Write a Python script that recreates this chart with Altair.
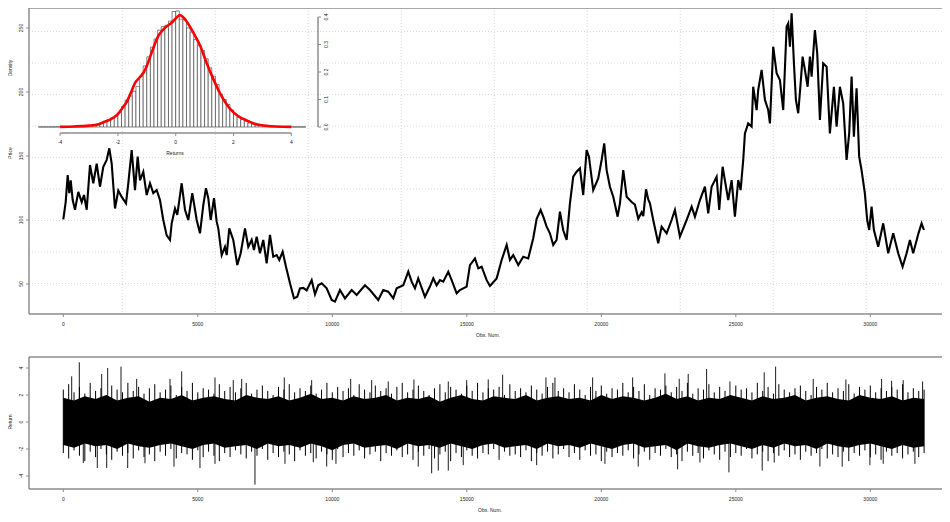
import altair as alt
import pandas as pd

# ---------------- data ----------------
price_obs = [0, 89, 164, 223, 275, 349, 435, 558, 684, 769, 870, 992, 1115, 1241, 1364, 1487, 1613, 1710, 1799, 1922,
             2044, 2171, 2331, 2416, 2542, 2665, 2765, 2851, 2974, 3100, 3223, 3345, 3472, 3594, 3717, 3843, 3966, 4029, 4152, 4237,
             4401, 4524, 4646, 4795, 4959, 5081, 5204, 5304, 5390, 5479, 5602, 5702, 5761, 5888, 6010, 6074, 6170, 6319, 6468, 6594,
             6754, 6876, 7003, 7088, 7189, 7311, 7434, 7560, 7683, 7806, 7932, 8029, 8155, 8278, 8427, 8575, 8698, 8798, 8921, 9047,
             9233, 9356, 9478, 9605, 9791, 9977, 10099, 10285, 10471, 10720, 10906, 11214, 11400, 11709, 11894, 12080, 12266, 12393, 12638, 12824,
             12950, 13073, 13195, 13444, 13630, 13753, 13879, 14002, 14125, 14311, 14437, 14623, 14745, 14994, 15117, 15303, 15426, 15552, 15738, 15860,
             16110, 16296, 16482, 16604, 16727, 16913, 17098, 17284, 17470, 17597, 17745, 17843, 17968, 18090, 18213, 18339, 18462, 18585, 18711, 18834,
             18957, 19083, 19206, 19328, 19455, 19540, 19700, 19886, 20012, 20109, 20198, 20321, 20444, 20607, 20693, 20816, 20943, 21128, 21251, 21374,
             21500, 21560, 21663, 21745, 21808, 21930, 22116, 22243, 22429, 22614, 22737, 22923, 23172, 23358, 23481, 23667, 23852, 23975, 24101, 24287,
             24384, 24510, 24718, 24845, 24967, 25090, 25179, 25276, 25339, 25461, 25588, 25647, 25774, 25833, 25960, 26083, 26205, 26269, 26391, 26518,
             26640, 26763, 26889, 26949, 27012, 27075, 27161, 27235, 27320, 27410, 27484, 27570, 27670, 27755, 27818, 27941, 28027, 28127, 28249, 28376,
             28498, 28647, 28747, 28870, 28992, 29119, 29215, 29305, 29390, 29490, 29586, 29675, 29798, 29885, 29959, 30048, 30134, 30294, 30480, 30665,
             30852, 31038, 31201, 31350, 31473, 31595, 31791, 31907, 31993]
price_val = [100.5, 114, 135, 121, 131, 115.6, 108, 122, 114, 119.5, 108, 143, 128.7, 144, 126, 141.6, 147, 156, 144, 109,
             123, 118, 113, 128.7, 154.7, 123.4, 149.5, 131, 137.7, 119.5, 128.7, 121, 123.4, 115.6, 100, 88, 84.4, 97.4, 109, 104,
             128.7, 108, 100, 121, 100, 89.6, 111.7, 124.8, 117, 100, 117, 98.7, 93.5, 72.6, 79, 72.6, 93.5, 84.4, 64.8, 74,
             93.5, 79, 84.4, 76.6, 87, 74, 84.4, 66.2, 88.3, 71.3, 72.6, 68.8, 75.2, 63.5, 50.5, 38.8, 40, 46.6, 47, 45,
             53, 42, 49, 50.5, 46.6, 37.5, 36.2, 45.3, 38.8, 45.3, 41.4, 49, 45.3, 37.5, 45.3, 44, 38.8, 46.6, 49, 59.6,
             51.8, 46.6, 54.4, 40, 48, 54.4, 49, 53, 51.8, 59.6, 53, 42.7, 45.3, 48, 64.8, 70, 62.2, 63.5, 53, 48.5,
             54.4, 68.8, 80.5, 68.8, 72.6, 64.8, 71.3, 70, 85.7, 101, 107.8, 102.6, 94.8, 89.6, 80.5, 84.4, 106.5, 92, 84.4, 113,
             133.8, 137.7, 140.4, 119.5, 154.7, 149.5, 123.4, 132.5, 146.9, 159.9, 139, 126, 118.2, 102.6, 113, 139, 118.2, 114, 112, 101,
             106, 103, 124, 116, 113, 100, 81.8, 94.8, 89.6, 100, 107.8, 87, 100, 110.4, 102.6, 115.6, 126, 105.2, 126, 133.8,
             107.8, 141.6, 115.6, 131.2, 102.6, 131.2, 123.4, 146.9, 167.7, 175.5, 172.9, 204.1, 185.9, 201.6, 217.2, 193.8, 185.9, 175.5, 235.4, 214.6,
             209.4, 185.9, 251, 253.7, 235.4, 261.5, 222.3, 193.8, 183.4, 206.8, 227.6, 217.2, 204.1, 227.6, 212, 248.4, 230.2, 178.1, 222.3, 219.7,
             167.7, 204.1, 172.9, 204.1, 191.2, 146.9, 167.7, 212, 165.1, 202.9, 149.5, 139, 120.8, 100, 92.2, 110.4, 92.2, 79.1, 97.4, 74,
             89.6, 74, 63.5, 74, 84.4, 74, 89.6, 97.4, 92.2]

# histogram of returns (inset): bins of 0.125 starting at -4.75
hist_start = -4.75
hist_bin = 0.125
hist_density = [0.0003, 0.0002, 0.0003, 0.0002, 0.0005, 0.0006, 0.0008, 0.001, 0.0012, 0.0015,
                0.002, 0.003, 0.004, 0.005, 0.006, 0.008, 0.011, 0.015, 0.021, 0.027,
                0.033, 0.04, 0.052, 0.075, 0.098, 0.113, 0.13, 0.148, 0.185, 0.222,
                0.255, 0.29, 0.32, 0.352, 0.365, 0.37, 0.385, 0.42, 0.422, 0.392,
                0.39, 0.36, 0.345, 0.318, 0.296, 0.278, 0.248, 0.215, 0.185, 0.155,
                0.12, 0.1, 0.082, 0.062, 0.047, 0.036, 0.027, 0.02, 0.015, 0.011,
                0.008, 0.006, 0.004, 0.003, 0.002, 0.0015, 0.001, 0.0008, 0.0006, 0.0005,
                0.0003, 0.0003, 0.0002, 0.0002]

dens_x = [-4.0, -3.5, -3.0, -2.73, -2.5, -2.25, -2.02, -1.85, -1.68, -1.55, -1.39, -1.25, -1.1, -1.0, -0.8,
          -0.6, -0.45, -0.31, -0.15, 0.03, 0.15, 0.25, 0.38, 0.61, 0.84, 1.07, 1.3, 1.53, 1.76, 2.0,
          2.23, 2.46, 2.7, 2.92, 3.3, 3.7, 4.0]
dens_y = [0.0005, 0.002, 0.005, 0.008, 0.017, 0.028, 0.045, 0.068, 0.094, 0.125, 0.163, 0.18, 0.2, 0.222, 0.28,
          0.331, 0.352, 0.366, 0.378, 0.398, 0.407, 0.4, 0.384, 0.343, 0.297, 0.233, 0.175, 0.123, 0.083, 0.053,
          0.035, 0.024, 0.013, 0.007, 0.003, 0.001, 0.0005]

# returns band: fringe highs / lows every 200 observations
ret_step = 200
ret_hi = [2.4, 2.8, 2.2, 2.6, 2.1, 2.9, 2.3, 2.5, 2.0, 2.7,
          2.4, 2.2, 2.9, 2.3, 2.6, 2.1, 2.5, 2.8, 2.2, 2.4,
          2.7, 2.0, 2.6, 2.3, 2.9, 2.2, 2.5, 2.4, 2.1, 2.8,
          2.3, 2.6, 2.2, 2.5, 2.9, 2.1, 2.4, 2.7, 2.3, 2.0,
          2.6, 2.4, 2.8, 2.2, 2.5, 2.3, 2.7, 2.1, 2.4, 2.9,
          2.2, 2.6, 2.3, 2.5, 2.0, 2.8, 2.4, 2.2, 2.7, 2.3,
          2.5, 2.1, 2.6, 2.9, 2.2, 2.4, 2.7, 2.3, 2.0, 2.5,
          2.8, 2.2, 2.6, 2.4, 2.1, 2.7, 2.3, 2.9, 2.2, 2.5,
          2.4, 2.6, 2.0, 2.8, 2.3, 2.5, 2.2, 2.7, 2.4, 2.1,
          2.6, 2.9, 2.3, 2.5, 2.2, 2.8, 2.4, 2.0, 2.6, 2.3,
          2.7, 2.1, 2.5, 2.4, 2.9, 2.2, 2.6, 2.3, 2.8, 2.0,
          2.5, 2.4, 2.7, 2.2, 2.6, 2.3, 2.9, 2.1, 2.5, 2.4,
          2.8, 2.2, 2.6, 2.3, 2.0, 2.7, 2.4, 2.5, 2.2, 2.9,
          2.3, 2.6, 2.1, 2.8, 2.4, 2.2, 2.5, 2.7, 2.3, 2.0,
          2.6, 2.4, 2.9, 2.2, 2.5, 2.3, 2.8, 2.1, 2.6, 2.4,
          2.7, 2.2, 2.5, 2.3, 2.6, 2.4, 2.8, 2.2, 2.5, 2.3,
          2.4]
ret_lo = [-2.3, -2.7, -2.1, -2.5, -2.9, -2.2, -2.6, -2.0, -2.4, -2.8,
          -2.2, -2.5, -2.3, -2.7, -2.1, -2.6, -2.4, -2.9, -2.2, -2.5,
          -2.0, -2.7, -2.3, -2.4, -2.8, -2.1, -2.6, -2.2, -2.5, -2.9,
          -2.3, -2.6, -2.1, -2.4, -2.7, -2.2, -2.5, -2.0, -2.8, -2.3,
          -2.6, -2.2, -2.4, -2.9, -2.1, -2.5, -2.3, -2.7, -2.2, -2.4,
          -2.8, -2.0, -2.6, -2.3, -2.5, -2.1, -2.7, -2.4, -2.2, -2.9,
          -2.3, -2.5, -2.1, -2.6, -2.4, -2.8, -2.2, -2.5, -2.0, -2.7,
          -2.4, -2.2, -2.9, -2.3, -2.6, -2.1, -2.5, -2.7, -2.3, -2.4,
          -2.0, -2.8, -2.2, -2.5, -2.4, -2.6, -2.1, -2.9, -2.3, -2.5,
          -2.2, -2.7, -2.4, -2.0, -2.6, -2.3, -2.8, -2.1, -2.5, -2.4,
          -2.9, -2.2, -2.6, -2.3, -2.5, -2.1, -2.7, -2.4, -2.2, -2.8,
          -2.3, -2.5, -2.0, -2.6, -2.4, -2.9, -2.2, -2.5, -2.3, -2.7,
          -2.1, -2.4, -2.8, -2.2, -2.6, -2.3, -2.5, -2.0, -2.7, -2.4,
          -2.2, -2.9, -2.3, -2.5, -2.1, -2.6, -2.4, -2.8, -2.2, -2.5,
          -2.3, -2.0, -2.7, -2.4, -2.6, -2.2, -2.9, -2.3, -2.5, -2.1,
          -2.6, -2.4, -2.8, -2.2, -2.5, -2.3, -2.7, -2.4, -2.2, -2.6,
          -2.3]
# dense core of the returns band, every 400 observations
core_step = 400
core_hi = [1.8, 1.6, 1.9, 1.7, 2.0, 1.6, 1.8, 1.9, 1.5, 1.8,
           1.7, 2.0, 1.6, 1.8, 1.9, 1.7, 1.6, 2.0, 1.8, 1.7,
           1.9, 1.6, 1.8, 2.1, 1.7, 1.8, 1.6, 1.9, 1.7, 1.8,
           2.0, 1.6, 1.8, 1.7, 1.9, 1.5, 1.8, 2.0, 1.7, 1.6,
           1.9, 1.8, 1.7, 2.0, 1.6, 1.8, 1.9, 1.7, 1.8, 1.6,
           2.0, 1.7, 1.9, 1.8, 1.6, 1.8, 2.1, 1.7, 1.9, 1.6,
           1.8, 1.7, 2.0, 1.8, 1.6, 1.9, 1.7, 1.8, 2.0, 1.6,
           1.8, 1.9, 1.7, 1.6, 2.0, 1.8, 1.7, 1.9, 1.6, 1.8,
           1.7]
core_lo = [-1.7, -1.9, -1.6, -1.8, -1.7, -2.0, -1.6, -1.8, -1.9, -1.7,
           -1.6, -1.8, -2.0, -1.7, -1.6, -1.9, -1.8, -1.7, -2.0, -1.6,
           -1.8, -1.7, -1.9, -1.6, -1.8, -2.1, -1.7, -1.6, -1.9, -1.8,
           -1.7, -2.0, -1.6, -1.8, -1.7, -1.9, -1.6, -1.8, -2.0, -1.7,
           -1.6, -1.9, -1.8, -1.7, -2.0, -1.6, -1.8, -1.7, -1.9, -1.6,
           -1.8, -2.0, -1.7, -1.6, -1.9, -1.8, -1.7, -2.1, -1.6, -1.8,
           -1.9, -1.7, -1.6, -1.8, -2.0, -1.7, -1.9, -1.6, -1.8, -1.7,
           -2.0, -1.6, -1.8, -1.9, -1.7, -1.6, -1.8, -2.0, -1.7, -1.9,
           -1.8]

spike_up_obs = [312, 595, 1427, 1650, 2145, 2728, 3966, 4401, 5639, 6319, 6631, 8215, 9233, 10683, 11463, 12080,
                13036, 14311, 14995, 15797, 16332, 17942, 18277, 19678, 21165, 22365, 22897, 23231, 23915, 24782,
                26056, 26480, 27878, 29093, 30420, 30792, 31223, 31944]
spike_up_val = [3.38, 4.42, 3.56, 4.0, 4.1, 3.19, 3.19, 3.75, 3.3, 3.1, 3.19, 3.3, 3.1, 3.19, 3.1, 3.0,
                3.15, 3.0, 3.1, 3.15, 3.5, 3.3, 3.3, 3.3, 3.3, 3.6, 3.2, 3.56, 3.93, 3.0,
                3.68, 4.1, 3.19, 3.15, 3.19, 3.05, 3.1, 3.0]
spike_dn_obs = [743, 1264, 1613, 2394, 3037, 4115, 5081, 5639, 7125, 8241, 9293, 9791, 10136, 13195, 13693, 13939,
                14311, 14868, 17597, 20135, 21373, 22837, 23666, 24744, 25982, 26428, 28127, 28955, 29985, 30480, 31658]
spike_dn_val = [-3.04, -3.41, -3.41, -3.41, -3.06, -3.31, -3.41, -3.1, -4.64, -3.1, -2.98, -3.3, -3.1, -3.3, -3.8, -3.6,
                -3.6, -3.2, -3.2, -3.1, -3.3, -3.5, -3.0, -3.73, -3.6, -3.0, -3.3, -3.3, -3.2, -3.1, -3.1]

obs_ticks = [0, 5000, 10000, 15000, 20000, 25000, 30000]
price_ticks = [50, 100, 150, 200, 250]
ret_ticks = [-4, -2, 0, 2, 4]
hist_ticks = [-4, -2, 0, 2, 4]
dens_ticks = [0.0, 0.1, 0.2, 0.3, 0.4]
obs_grid = [2193, 5650, 9107, 12564, 16021, 19478, 22935, 26392, 29849]
price_grid = [50.4, 75.0, 99.6, 124.2, 148.8, 173.4, 198.0, 222.6, 247.2]

# ---------------- layout ----------------
W, H = 913, 505
TOP_Y0, TOP_Y1 = 0, 306
BOT_Y0, BOT_Y1 = 349, 481

X_OBS = alt.Scale(domain=[0, 30000], range=[34.3, 841.3], nice=False, zero=False)
Y_PRICE = alt.Scale(domain=[50, 250], range=[276, 20], nice=False, zero=False)
X_HIST = alt.Scale(domain=[-4, 4], range=[31.1, 262.3], nice=False, zero=False)
Y_DENS = alt.Scale(domain=[0, 0.4], range=[119, 9], nice=False, zero=False)
Y_RET = alt.Scale(domain=[-4, 4], range=[468, 360], nice=False, zero=False)

FRAME = '#8c8c8c'
GRID = '#cfcfcf'
FONT = 'Liberation Sans'
FS = 5
TXT = '#1a1a1a'

one = pd.DataFrame({'k': [0]})


def hline(y, x0, x1, color=FRAME, w=1.5):
    return alt.Chart(one).mark_rule(color=color, strokeWidth=w).encode(
        x=alt.value(x0), x2=alt.value(x1), y=alt.value(y))


def vline(x, y0, y1, color=FRAME, w=1.5):
    return alt.Chart(one).mark_rule(color=color, strokeWidth=w).encode(
        x=alt.value(x), y=alt.value(y0), y2=alt.value(y1))


def label(text, x, y, angle=0):
    return alt.Chart(one).mark_text(text=text, font=FONT, fontSize=FS, color=TXT, angle=angle,
                                    align='center', baseline='middle').encode(x=alt.value(x), y=alt.value(y))


def fmt_num(v):
    if float(v).is_integer():
        return str(int(v))
    return str(v)


def xaxis(values, scale, y0, y1, ylab, fmt=fmt_num):
    df = pd.DataFrame({'v': values, 'lab': [fmt(v) for v in values]})
    t = alt.Chart(df).mark_rule(color=FRAME, strokeWidth=1).encode(
        x=alt.X('v:Q', scale=scale, axis=None), y=alt.value(y0), y2=alt.value(y1))
    lb = alt.Chart(df).mark_text(font=FONT, fontSize=FS, color=TXT, align='center', baseline='middle').encode(
        x=alt.X('v:Q', scale=scale, axis=None), y=alt.value(ylab), text='lab:N')
    return [t, lb]


def yaxis(values, scale, x0, x1, xlab, fmt=fmt_num):
    df = pd.DataFrame({'v': values, 'lab': [fmt(v) for v in values]})
    t = alt.Chart(df).mark_rule(color=FRAME, strokeWidth=1).encode(
        y=alt.Y('v:Q', scale=scale, axis=None), x=alt.value(x0), x2=alt.value(x1))
    lb = alt.Chart(df).mark_text(font=FONT, fontSize=FS, color=TXT, angle=270, align='center',
                                 baseline='middle').encode(
        y=alt.Y('v:Q', scale=scale, axis=None), x=alt.value(xlab), text='lab:N')
    return [t, lb]


layers = []

# --- top panel: grid
gx = pd.DataFrame({'g': obs_grid})
layers.append(alt.Chart(gx).mark_rule(color=GRID, strokeWidth=0.8, strokeDash=[1, 2]).encode(
    x=alt.X('g:Q', scale=X_OBS, axis=None), y=alt.value(TOP_Y0), y2=alt.value(TOP_Y1)))
gy = pd.DataFrame({'g': price_grid})
layers.append(alt.Chart(gy).mark_rule(color=GRID, strokeWidth=0.8, strokeDash=[1, 2]).encode(
    y=alt.Y('g:Q', scale=Y_PRICE, axis=None), x=alt.value(0), x2=alt.value(W)))

# --- top panel: price series
pdf = pd.DataFrame({'obs': price_obs, 'price': price_val})
layers.append(alt.Chart(pdf).mark_line(color='black', strokeWidth=2.1).encode(
    x=alt.X('obs:Q', scale=X_OBS, axis=None), y=alt.Y('price:Q', scale=Y_PRICE, axis=None)))

# --- top panel frame & axes
layers += [hline(TOP_Y0, 0, W), vline(0, TOP_Y0, TOP_Y1), hline(TOP_Y1, 0, W)]
layers += xaxis(obs_ticks, X_OBS, TOP_Y1, TOP_Y1 + 3, 316)
layers += yaxis(price_ticks, Y_PRICE, -3, 0, -8)
layers.append(label('Obs. Num.', 459, 327))
layers.append(label('Price', -19, 145, 270))

# --- inset histogram
hdf = pd.DataFrame({
    'lo': [hist_start + i * hist_bin for i in range(len(hist_density))],
    'hi': [hist_start + (i + 1) * hist_bin for i in range(len(hist_density))],
    'd': hist_density,
})
layers.append(alt.Chart(hdf).mark_rect(fill='white', stroke='#333333', strokeWidth=0.6).encode(
    x=alt.X('lo:Q', scale=X_HIST, axis=None), x2='hi:Q',
    y=alt.Y('d:Q', scale=Y_DENS, axis=None), y2=alt.datum(0)))
ddf = pd.DataFrame({'x': dens_x, 'y': dens_y})
layers.append(alt.Chart(ddf).mark_line(color='#ff0000', strokeWidth=2.6, interpolate='monotone').encode(
    x=alt.X('x:Q', scale=X_HIST, axis=None), y=alt.Y('y:Q', scale=Y_DENS, axis=None)))

# inset x axis
hax = pd.DataFrame({'a': [min(hist_ticks)], 'b': [max(hist_ticks)]})
layers.append(alt.Chart(hax).mark_rule(color='#555555', strokeWidth=1).encode(
    x=alt.X('a:Q', scale=X_HIST, axis=None), x2='b:Q', y=alt.value(125)))
layers += xaxis(hist_ticks, X_HIST, 125, 128, 134)
layers.append(label('Returns', 146, 145))
# inset right axis
dax = pd.DataFrame({'a': [min(dens_ticks)], 'b': [max(dens_ticks)]})
layers.append(alt.Chart(dax).mark_rule(color='#555555', strokeWidth=1).encode(
    y=alt.Y('a:Q', scale=Y_DENS, axis=None), y2='b:Q', x=alt.value(289)))
layers += yaxis(dens_ticks, Y_DENS, 289, 292, 297, fmt=lambda v: f'{v:.1f}')
layers.append(label('Density', -19, 60, 270))

# --- bottom panel: returns
cdf = pd.DataFrame({'obs': [i * core_step for i in range(min(len(core_hi), len(core_lo)))],
                    'hi': core_hi[:min(len(core_hi), len(core_lo))],
                    'lo': core_lo[:min(len(core_hi), len(core_lo))]})
layers.append(alt.Chart(cdf).mark_area(color='black', opacity=1).encode(
    x=alt.X('obs:Q', scale=X_OBS, axis=None), y=alt.Y('hi:Q', scale=Y_RET, axis=None), y2='lo:Q'))
nr = min(len(ret_hi), len(ret_lo))
rdf = pd.DataFrame({'obs': [i * ret_step for i in range(nr)], 'hi': ret_hi[:nr], 'lo': ret_lo[:nr]})
layers.append(alt.Chart(rdf).mark_rule(color='black', strokeWidth=1.0).encode(
    x=alt.X('obs:Q', scale=X_OBS, axis=None), y=alt.Y('hi:Q', scale=Y_RET, axis=None), y2='lo:Q'))
sdf = pd.DataFrame({'obs': spike_up_obs + spike_dn_obs, 'v': spike_up_val + spike_dn_val})
layers.append(alt.Chart(sdf).mark_rule(color='black', strokeWidth=0.9).encode(
    x=alt.X('obs:Q', scale=X_OBS, axis=None), y=alt.Y('v:Q', scale=Y_RET, axis=None), y2=alt.datum(0)))

layers += [hline(BOT_Y0, 0, W), vline(0, BOT_Y0, BOT_Y1), hline(BOT_Y1, 0, W)]
layers += xaxis(obs_ticks, X_OBS, BOT_Y1, BOT_Y1 + 3, 491)
layers += yaxis(ret_ticks, Y_RET, -3, 0, -8)
layers.append(label('Obs. Num.', 461, 501.5))
layers.append(label('Return', -19, 414, 270))

chart = alt.layer(*layers).resolve_scale(x='independent', y='independent').properties(
    width=W, height=H,
    autosize=alt.AutoSizeParams(type='none'),
    padding={'left': 21, 'right': 0, 'top': 0, 'bottom': 0},
).configure_view(stroke=None)

chart.save("out.html", embed_options={"renderer": "svg", "actions": False})
